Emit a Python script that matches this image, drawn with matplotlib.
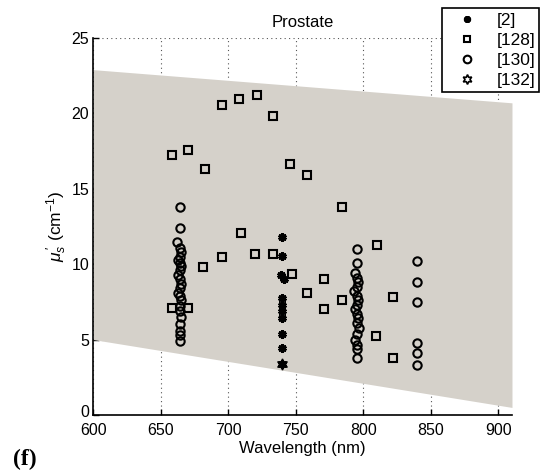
import matplotlib
matplotlib.use("Agg")
import matplotlib.pyplot as plt
import matplotlib.transforms as mtransforms
from matplotlib.lines import Line2D

plt.rcParams['font.family'] = ['Liberation Sans', 'DejaVu Sans']
plt.rcParams['mathtext.fontset'] = 'custom'
plt.rcParams['mathtext.rm'] = 'Liberation Sans'
plt.rcParams['mathtext.it'] = 'Liberation Sans:italic'

# shaded band (range of values)
band_wl = [600, 910]
band_upper = [22.9, 20.7]
band_lower = [5.0, 0.5]

# [2]
ref2_wl = [740, 740, 739, 741, 740, 740, 740, 740, 740, 740, 740]
ref2_val = [11.8, 10.55, 9.3, 9.0, 7.75, 7.3, 6.9, 6.4, 5.4, 4.45, 3.4]

# [128]
ref128_wl = [658, 670, 658, 670, 683, 681, 695, 709, 720, 733, 695, 708, 721, 733,
             746, 758, 747, 758, 771, 771, 784, 784, 810, 809, 822, 822]
ref128_val = [7.1, 7.1, 17.25, 17.6, 16.3, 9.8, 10.5, 12.1, 10.7, 10.7, 20.55, 20.95,
              21.2, 19.8, 16.65, 15.9, 9.35, 8.1, 9.05, 7.0, 7.6, 13.8, 11.3, 5.25,
              7.8, 3.8]

# [130]
ref130_wl = [664, 664, 662, 664, 665, 664, 663, 664, 665, 664, 663, 664, 665, 664,
             663, 664, 665, 664, 664, 665, 664, 664, 664, 664,
             795, 795, 794, 795, 796, 795, 793, 795, 796, 795, 794, 795, 796, 795,
             797, 795, 794, 795, 795, 795,
             840, 840, 840, 840, 840, 840]
ref130_val = [13.8, 12.4, 11.5, 11.1, 10.8, 10.5, 10.3, 10.1, 9.9, 9.6, 9.3, 9.0, 8.7,
              8.4, 8.1, 7.9, 7.6, 7.2, 6.9, 6.5, 6.0, 5.6, 5.3, 4.9,
              11.0, 10.1, 9.4, 9.1, 8.8, 8.5, 8.2, 7.9, 7.6, 7.3, 7.0, 6.7, 6.4, 6.1,
              5.8, 5.4, 5.0, 4.65, 4.4, 3.75,
              10.2, 8.85, 7.5, 4.8, 4.1, 3.3]

# [132]
ref132_wl = [740]
ref132_val = [3.4]

xticks = [600, 650, 700, 750, 800, 850, 900]
yticks = [0, 5, 10, 15, 20, 25]

fig = plt.figure(figsize=(5.46, 4.76), dpi=100)
ax = fig.add_axes([0.1709, 0.1282, 0.7668, 0.792])

ax.fill_between(band_wl, band_lower, band_upper, color='#d5d1ca', linewidth=0, zorder=1)

ax.plot(ref2_wl, ref2_val, linestyle='none', marker=(6, 2, 0), markersize=6,
        markeredgewidth=2.2, color='black', zorder=3)
ax.plot(ref128_wl, ref128_val, linestyle='none', marker='s', markersize=5.5,
        markerfacecolor='none', markeredgecolor='black', markeredgewidth=1.5, zorder=3)
ax.plot(ref130_wl, ref130_val, linestyle='none', marker='o', markersize=6,
        markerfacecolor='none', markeredgecolor='black', markeredgewidth=1.5, zorder=3)
ax.plot(ref132_wl, ref132_val, linestyle='none', marker=(6, 1, 0), markersize=8,
        markerfacecolor='black', markeredgecolor='black', markeredgewidth=1.0, zorder=3)

ax.set_xlim(600, 910)
ax.set_ylim(0, 25)
ax.set_xticks(xticks)
ax.set_yticks(yticks)
ax.tick_params(direction='in', length=4, width=1, labelsize=11.5)
ax.tick_params(axis='x', pad=6)
ax.tick_params(axis='y', pad=3)
for s in ['top', 'right']:
    ax.spines[s].set_visible(False)
for s in ['left', 'bottom']:
    ax.spines[s].set_linewidth(1.2)
ax.set_axisbelow(True)
ax.grid(True, linestyle=(0, (1, 3)), color='#555555', linewidth=0.8)

ax.set_title('Prostate', fontsize=12, pad=8)
ax.set_xlabel('Wavelength (nm)', fontsize=12, labelpad=2)
ax.set_ylabel(r"$\mu_s^{\,\prime}$ (cm$^{-1}$)", fontsize=12.5, labelpad=2)

# lift the "0" y tick label slightly, as in the reference
ylab0 = ax.get_yticklabels()[0]
ylab0.set_transform(ylab0.get_transform() +
                    mtransforms.ScaledTranslation(0, 3 / 72, fig.dpi_scale_trans))

handles = [
    Line2D([], [], linestyle='none', marker=(6, 2, 0), markersize=5, markeredgewidth=2.2, color='black'),
    Line2D([], [], linestyle='none', marker='s', markersize=5, markerfacecolor='none',
           markeredgecolor='black', markeredgewidth=1.5),
    Line2D([], [], linestyle='none', marker='o', markersize=5.5, markerfacecolor='none',
           markeredgecolor='black', markeredgewidth=1.5),
    Line2D([], [], linestyle='none', marker=(6, 1, 0), markersize=7, markerfacecolor='none',
           markeredgecolor='black', markeredgewidth=1.2),
]
labels = ['[2]', '[128]', '[130]', '[132]']
leg = fig.legend(handles, labels, loc='upper left', bbox_to_anchor=(0.809, 0.983),
                 fontsize=12.5, frameon=True, fancybox=False, edgecolor='black',
                 framealpha=1, borderpad=0.25, labelspacing=0.28, handletextpad=0.5,
                 handlelength=2.4, borderaxespad=0)
leg.get_frame().set_linewidth(1.2)

fig.text(0.024, 0.022, '(f)', fontsize=17, fontweight='bold', family='Liberation Serif')

fig.savefig('out.png', dpi=100)
